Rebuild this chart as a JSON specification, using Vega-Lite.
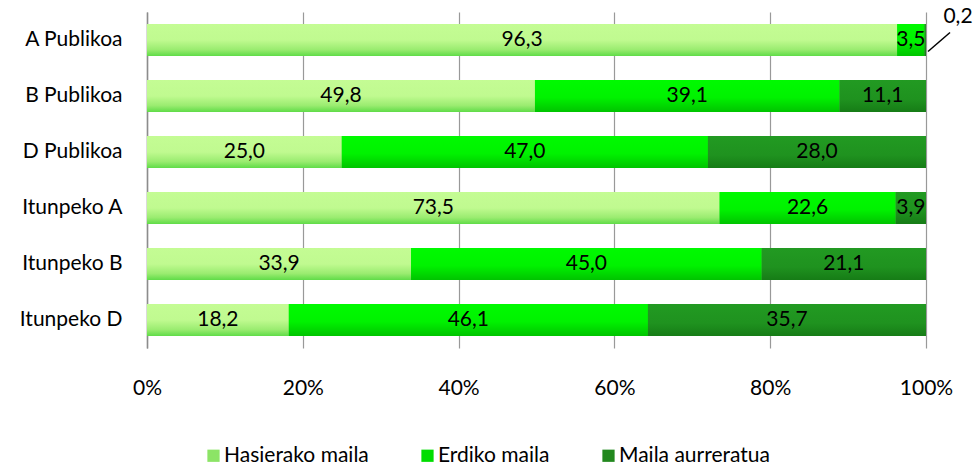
{
  "$schema": "https://vega.github.io/schema/vega-lite/v6.json",
  "width": 779,
  "height": 336,
  "autosize": {"type": "none"},
  "padding": {"left": 147, "top": 12, "right": 50, "bottom": 119},
  "background": "white",
  "config": {"view": {"stroke": null}, "font": "Lato"},
  "data": {"values": [
    {"cat": "A Publikoa", "level": "Hasierako maila", "ord": 1, "v": 96.3},
    {"cat": "A Publikoa", "level": "Erdiko maila", "ord": 2, "v": 3.5},
    {"cat": "A Publikoa", "level": "Maila aurreratua", "ord": 3, "v": 0.2},
    {"cat": "B Publikoa", "level": "Hasierako maila", "ord": 1, "v": 49.8},
    {"cat": "B Publikoa", "level": "Erdiko maila", "ord": 2, "v": 39.1},
    {"cat": "B Publikoa", "level": "Maila aurreratua", "ord": 3, "v": 11.1},
    {"cat": "D Publikoa", "level": "Hasierako maila", "ord": 1, "v": 25.0},
    {"cat": "D Publikoa", "level": "Erdiko maila", "ord": 2, "v": 47.0},
    {"cat": "D Publikoa", "level": "Maila aurreratua", "ord": 3, "v": 28.0},
    {"cat": "Itunpeko A", "level": "Hasierako maila", "ord": 1, "v": 73.5},
    {"cat": "Itunpeko A", "level": "Erdiko maila", "ord": 2, "v": 22.6},
    {"cat": "Itunpeko A", "level": "Maila aurreratua", "ord": 3, "v": 3.9},
    {"cat": "Itunpeko B", "level": "Hasierako maila", "ord": 1, "v": 33.9},
    {"cat": "Itunpeko B", "level": "Erdiko maila", "ord": 2, "v": 45.0},
    {"cat": "Itunpeko B", "level": "Maila aurreratua", "ord": 3, "v": 21.1},
    {"cat": "Itunpeko D", "level": "Hasierako maila", "ord": 1, "v": 18.2},
    {"cat": "Itunpeko D", "level": "Erdiko maila", "ord": 2, "v": 46.1},
    {"cat": "Itunpeko D", "level": "Maila aurreratua", "ord": 3, "v": 35.7}
  ]},
  "transform": [
    {"stack": "v", "groupby": ["cat"], "sort": [{"field": "ord"}], "as": ["s", "e"]},
    {"calculate": "(datum.s + datum.e) / 2", "as": "mid"},
    {"calculate": "replace(format(datum.v, '.1f'), '.', ',')", "as": "lbl"}
  ],
  "encoding": {
    "y": {
      "field": "cat", "type": "nominal", "title": null,
      "sort": ["A Publikoa", "B Publikoa", "D Publikoa", "Itunpeko A", "Itunpeko B", "Itunpeko D"],
      "scale": {"paddingInner": 0.43, "paddingOuter": 0.215},
      "axis": {"domainColor": "#8c8c8c", "domainWidth": 1.5, "ticks": false, "labelPadding": 25, "labelFontSize": 21, "labelColor": "#000", "labelFont": "Lato"}
    },
    "x": {
      "field": "s", "type": "quantitative", "title": null,
      "scale": {"domain": [0, 100], "nice": false},
      "axis": {"values": [0, 20, 40, 60, 80, 100], "labelExpr": "datum.value + '%'", "labelFlush": false, "grid": true, "gridColor": "#999", "gridWidth": 1.2, "domain": false, "ticks": false, "labelPadding": 29, "labelFontSize": 21, "labelColor": "#000", "labelFont": "Lato"}
    },
    "x2": {"field": "e"}
  },
  "layer": [
    {
      "mark": {"type": "bar"},
      "encoding": {
        "color": {
          "field": "level", "type": "nominal", "title": null,
          "scale": {"domain": ["Hasierako maila", "Erdiko maila", "Maila aurreratua"], "range": ["#8ce466", "#00dd00", "#22881e"]},
          "legend": {"orient": "none", "direction": "horizontal", "legendX": 56, "legendY": 433, "symbolType": "square", "symbolSize": 150, "symbolStrokeWidth": 0, "labelFontSize": 21, "labelColor": "#000", "columnPadding": 48, "labelOffset": 0, "labelFont": "Lato"}
        }
      }
    },
    {
      "transform": [{"filter": "datum.level == 'Hasierako maila'"}],
      "mark": {"type": "bar", "fill": {"gradient": "linear", "x1": 0, "y1": 0, "x2": 0, "y2": 1, "stops": [{"offset": 0, "color": "#c4fc94"}, {"offset": 0.5, "color": "#c0fa90"}, {"offset": 0.8, "color": "#9aec70"}, {"offset": 1, "color": "#60dc48"}]}}
    },
    {
      "transform": [{"filter": "datum.level == 'Erdiko maila'"}],
      "mark": {"type": "bar", "fill": {"gradient": "linear", "x1": 0, "y1": 0, "x2": 0, "y2": 1, "stops": [{"offset": 0, "color": "#00fa00"}, {"offset": 0.55, "color": "#00f200"}, {"offset": 1, "color": "#00c400"}]}}
    },
    {
      "transform": [{"filter": "datum.level == 'Maila aurreratua'"}],
      "mark": {"type": "bar", "fill": {"gradient": "linear", "x1": 0, "y1": 0, "x2": 0, "y2": 1, "stops": [{"offset": 0, "color": "#229a22"}, {"offset": 0.6, "color": "#1f921f"}, {"offset": 1, "color": "#167c16"}]}}
    },
    {
      "transform": [{"filter": "datum.v > 1"}],
      "mark": {"type": "text", "fontSize": 21, "color": "#000", "baseline": "middle", "font": "Lato"},
      "encoding": {
        "x": {"field": "mid", "type": "quantitative"},
        "x2": null,
        "text": {"field": "lbl"}
      }
    },
    {
      "transform": [{"filter": "datum.v <= 1"}],
      "mark": {"type": "text", "fontSize": 21, "color": "#000", "baseline": "middle", "dx": 32, "dy": -23, "font": "Lato"},
      "encoding": {
        "x": {"field": "e", "type": "quantitative"},
        "x2": null,
        "text": {"field": "lbl"}
      }
    },
    {
      "transform": [{"filter": "datum.v <= 1"}],
      "mark": {"type": "point", "shape": "M -1 0.86 L 1 -0.86", "filled": false, "stroke": "#000", "strokeWidth": 1.5, "size": 484, "opacity": 1, "xOffset": 13, "yOffset": 2},
      "encoding": {
        "x": {"field": "e", "type": "quantitative"},
        "x2": null
      }
    }
  ]
}
